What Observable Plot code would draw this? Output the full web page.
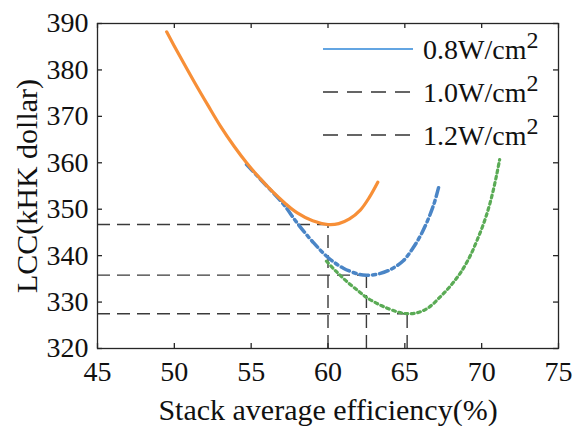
<!DOCTYPE html>
<html>
<head>
<meta charset="utf-8">
<script src="https://cdn.jsdelivr.net/npm/d3@7"></script>
<script src="https://cdn.jsdelivr.net/npm/@observablehq/plot@0.6"></script>
<style>
  html, body { margin: 0; padding: 0; background: #fff; }
  svg { display: block; }
  svg text { font-family: "Liberation Serif", Tinos, "Times New Roman", Times, serif !important; }
</style>
</head>
<body>
<div id="chart"></div>
<script>
// Life-cycle cost versus stack average efficiency for three power densities

// 0.8 W/cm² curve
const effA = [49.5, 50.3, 51.3, 52.2, 53.0, 53.9, 54.7, 55.5, 56.3, 57.2, 58.0, 59.0, 60.0, 60.7, 61.4, 62.1, 62.7, 63.24];
const lccA = [388.2, 383.3, 377.4, 372.3, 367.9, 363.5, 360.0, 356.9, 354.1, 351.3, 349.2, 347.5, 346.7, 346.9, 347.9, 349.8, 352.6, 355.8];

// 1.0 W/cm² curve
const effB = [54.7, 55.5, 56.3, 57.1, 58.0, 59.0, 60.0, 61.0, 62.0, 62.5, 63.2, 64.0, 64.9, 65.5, 66.0, 66.5, 66.9, 67.2];
const lccB = [359.6, 356.8, 354.0, 351.1, 347.0, 343.0, 339.6, 337.3, 336.0, 335.8, 336.0, 336.9, 338.9, 341.5, 344.2, 347.7, 351.2, 354.7];

// 1.2 W/cm² curve
const effC = [59.9, 60.5, 61.2, 62.0, 62.55, 63.5, 64.5, 65.15, 65.8, 66.5, 67.3, 68.0, 68.6, 69.2, 69.7, 70.2, 70.6, 70.95, 71.17];
const lccC = [338.8, 336.7, 334.5, 332.3, 330.9, 329.2, 327.9, 327.5, 327.7, 328.7, 331.1, 333.6, 336.2, 339.6, 343.3, 347.6, 352.0, 357.0, 360.7];

// minimum-cost operating points of each curve
const optEff = [60.0, 62.5, 65.15];
const optLcc = [346.7, 335.8, 327.5];

const xTicks = [45, 50, 55, 60, 65, 70, 75];
const yTicks = [320, 330, 340, 350, 360, 370, 380, 390];
const xDomain = [45, 75];
const yDomain = [320, 390];

const legendLabels = ["0.8W/cm", "1.0W/cm", "1.2W/cm"];
const xLabel = "Stack average efficiency(%)";
const yLabel = "LCC(kHK dollar)";

const toRows = (xs, ys) => xs.map((x, i) => ({x, y: ys[i]}));
const seriesA = toRows(effA, lccA);
const seriesB = toRows(effB, lccB);
const seriesC = toRows(effC, lccC);
const optima = toRows(optEff, optLcc);

const W = 580, H = 426;
const mL = 97, mR = 22, mT = 23, mB = 78;
const innerW = W - mL - mR, innerH = H - mT - mB;
const tickLen = 5;
const serif = "Liberation Serif, Tinos, Times New Roman, Times, serif";
const axisColor = "#262626";
const refColor = "#3a3a3a";

const chart = Plot.plot({
  width: W,
  height: H,
  marginLeft: mL,
  marginRight: mR,
  marginTop: mT,
  marginBottom: mB,
  x: {domain: xDomain},
  y: {domain: yDomain},
  style: `font-family: ${serif}; font-size: 28px; color: #111; background: #fff;`,
  marks: [
    // reference lines to the optimum of each curve
    Plot.ruleY(optima, {y: "y", x1: xDomain[0], x2: "x", stroke: refColor, strokeWidth: 1.4, strokeDasharray: "13,7"}),
    Plot.ruleX(optima, {x: "x", y1: yDomain[0], y2: "y", stroke: refColor, strokeWidth: 1.4, strokeDasharray: "13,7"}),

    // curves
    Plot.line(seriesC, {x: "x", y: "y", curve: "catmull-rom", stroke: "#5aab55", strokeWidth: 3.2, strokeDasharray: "2.8,3.6"}),
    Plot.line(seriesB, {x: "x", y: "y", curve: "catmull-rom", stroke: "#4a85c6", strokeWidth: 3.5, strokeDasharray: "9,4,3,4"}),
    Plot.line(seriesA, {x: "x", y: "y", curve: "catmull-rom", stroke: "#f78f37", strokeWidth: 3.2}),

    // box and inward ticks
    Plot.frame({stroke: axisColor, strokeWidth: 1.3}),
    Plot.tickX(xTicks, {x: d => d, insetTop: innerH - tickLen, stroke: axisColor, strokeWidth: 1.3}),
    Plot.tickX(xTicks, {x: d => d, insetBottom: innerH - tickLen, stroke: axisColor, strokeWidth: 1.3}),
    Plot.tickY(yTicks, {y: d => d, insetRight: innerW - tickLen, stroke: axisColor, strokeWidth: 1.3}),
    Plot.tickY(yTicks, {y: d => d, insetLeft: innerW - tickLen, stroke: axisColor, strokeWidth: 1.3}),

    // tick labels
    Plot.axisX(xTicks, {tickSize: 0, tickPadding: 13, fontSize: 28, label: null}),
    Plot.axisY(yTicks, {tickSize: 0, tickPadding: 9, fontSize: 28, label: null}),

    // axis titles
    Plot.text([xLabel], {text: d => d, frameAnchor: "bottom", textAnchor: "middle", lineAnchor: "middle", dy: 62, fontSize: 30, fill: "#111"}),
    Plot.text([yLabel], {text: d => d, frameAnchor: "left", textAnchor: "middle", lineAnchor: "middle", rotate: -90, dx: -70, fontSize: 30, fill: "#111"})
  ]
});

document.getElementById("chart").appendChild(chart);

// legend inside the plot area
const legendStyles = [
  {stroke: "#2f87d8", dash: null},
  {stroke: "#333", dash: "15,9"},
  {stroke: "#333", dash: "15,9"}
];
const legendY = [49, 92, 135];
const svg = d3.select(chart);
const lg = svg.append("g")
  .attr("font-family", serif)
  .attr("font-size", 28)
  .attr("text-anchor", "start")
  .attr("fill", "#111");
legendLabels.forEach((lab, i) => {
  const y = legendY[i];
  lg.append("line")
    .attr("x1", 323).attr("x2", 413).attr("y1", y).attr("y2", y)
    .attr("stroke", legendStyles[i].stroke)
    .attr("stroke-width", 1.6)
    .attr("stroke-dasharray", legendStyles[i].dash);
  const t = lg.append("text").attr("x", 423).attr("y", y + 10);
  t.append("tspan").text(lab);
  t.append("tspan").attr("font-size", 24).attr("dy", -11).text("2");
});
</script>
</body>
</html>
